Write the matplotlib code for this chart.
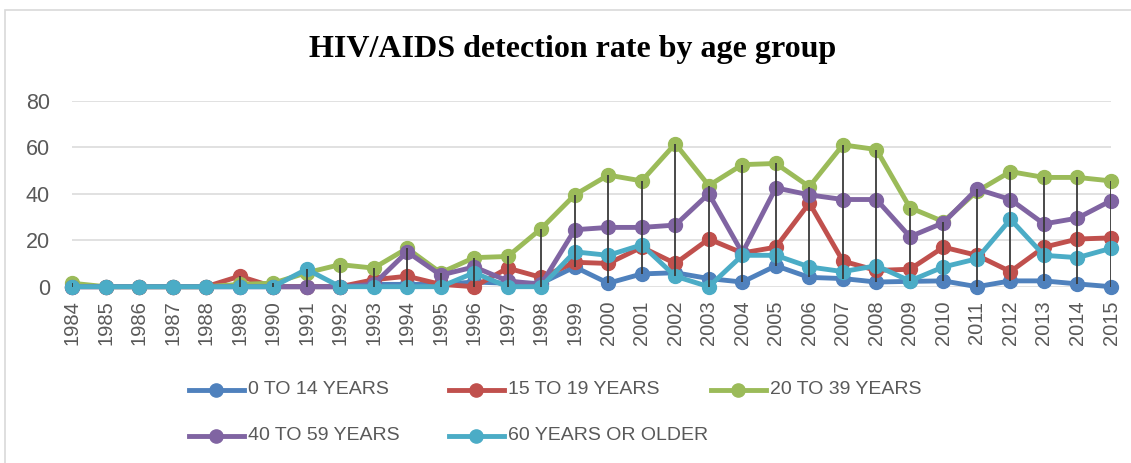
import matplotlib
matplotlib.use("Agg")
import matplotlib.pyplot as plt
from matplotlib.lines import Line2D
from matplotlib.patches import Rectangle
import numpy as np

years = list(range(1984, 2016))
labels = ["0 TO 14 YEARS", "15 TO 19 YEARS", "20 TO 39 YEARS", "40 TO 59 YEARS", "60 YEARS OR OLDER"]
colors = ["#4F81BD", "#C0504D", "#9BBB59", "#8064A2", "#4BACC6"]

age_0_14 = [0, 0, 0, 0, 0, 0, 0, 0, 0, 1, 1, 1, 2, 1.5, 1.5, 8.5, 1.5, 5.5, 6, 3.5,
            2, 9, 4, 3.5, 2, 2.3, 2.5, 0, 2.5, 2.5, 1.2, 0]
age_15_19 = [0, 0, 0, 0, 0, 4.5, 0, 0, 0, 3, 4.5, 1, 0, 8, 4, 10.5, 10, 17, 10, 20.5,
             14.5, 17, 36, 11, 7, 7.5, 17, 13.5, 6.5, 17, 20.5, 21]
age_20_39 = [1.5, 0, 0, 0, 0, 1, 1.5, 6, 9.5, 8, 16.5, 6, 12.5, 13, 25, 39.5, 48, 45.5, 61.5, 43.5,
             52.5, 53, 43, 61, 59, 34, 28, 41, 49.5, 47, 47, 45.5]
age_40_59 = [0, 0, 0, 0, 0, 0, 0, 0, 0, 1, 15, 5, 8.5, 2.5, 1, 24.5, 25.5, 25.5, 26.5, 40,
             14.5, 42.5, 39.5, 37.5, 37.5, 21.5, 27.5, 42, 37.5, 27, 29.5, 37]
age_60_plus = [0, 0, 0, 0, 0, 0, 0, 7.5, 0, 0, 0, 0, 6, 0, 0, 15, 13.5, 18, 4.5, 0,
               13.5, 13.5, 8.5, 6.5, 9, 2.5, 8.5, 12, 29, 13.5, 12.5, 16.5]
series = [age_0_14, age_15_19, age_20_39, age_40_59, age_60_plus]

W, H = 1131, 463
fig = plt.figure(figsize=(W / 100, H / 100), dpi=100)
fig.patch.set_facecolor("white")

# outer chart border
fig.patches.append(Rectangle((5 / W, -0.05), 1.2, 1 - 10 / H + 0.05, transform=fig.transFigure,
                             fill=False, edgecolor="#D9D9D9", lw=1.2))

ax = fig.add_axes([72 / W, 1 - 286.7 / H, (1111 - 72) / W, (286.7 - 100.7) / H])
ax.set_xlim(1984, 2015)
ax.set_ylim(0, 80)
ax.set_yticks([0, 20, 40, 60, 80])
ax.set_xticks(years)
ax.set_xticklabels([str(y) for y in years], rotation=90, fontsize=14.5, color="#595959",
                   family="Liberation Sans")
for t in ax.get_yticklabels():
    t.set_fontsize(15.5)
    t.set_color("#595959")
    t.set_family("Liberation Sans")
ax.tick_params(axis="both", length=0)
ax.tick_params(axis="y", pad=16)
ax.tick_params(axis="x", pad=10)
for s in ax.spines.values():
    s.set_visible(False)
ax.grid(axis="y", color="#D9D9D9", lw=1.1)
ax.set_axisbelow(True)

for vals, c in zip(series, colors):
    ax.plot(years, vals, color=c, lw=3.5, marker="o", ms=10, clip_on=False, zorder=3)

arr = np.array(series)
ax.vlines(years, arr.min(axis=0), arr.max(axis=0), color="#3A3A3A", lw=1.3, zorder=5)

fig.text(573 / W, 1 - 49 / H, "HIV/AIDS detection rate by age group", ha="center", va="center",
         fontsize=23, fontweight="bold", family="Liberation Serif", color="black")

# legend
pos = [(189, 390), (449, 390), (711, 390), (189, 436), (449, 436)]
for (x0, yy), c, lab in zip(pos, colors, labels):
    yf = 1 - yy / H
    fig.add_artist(Line2D([x0 / W, (x0 + 55) / W], [yf, yf], transform=fig.transFigure,
                          color=c, lw=3.5))
    fig.add_artist(Line2D([(x0 + 27) / W], [yf], transform=fig.transFigure, color=c,
                          marker="o", ms=9.5))
    fig.text((x0 + 59) / W, yf, lab, ha="left", va="center", fontsize=14,
             family="Liberation Sans", color="#595959")

fig.savefig("out.png", dpi=100)
